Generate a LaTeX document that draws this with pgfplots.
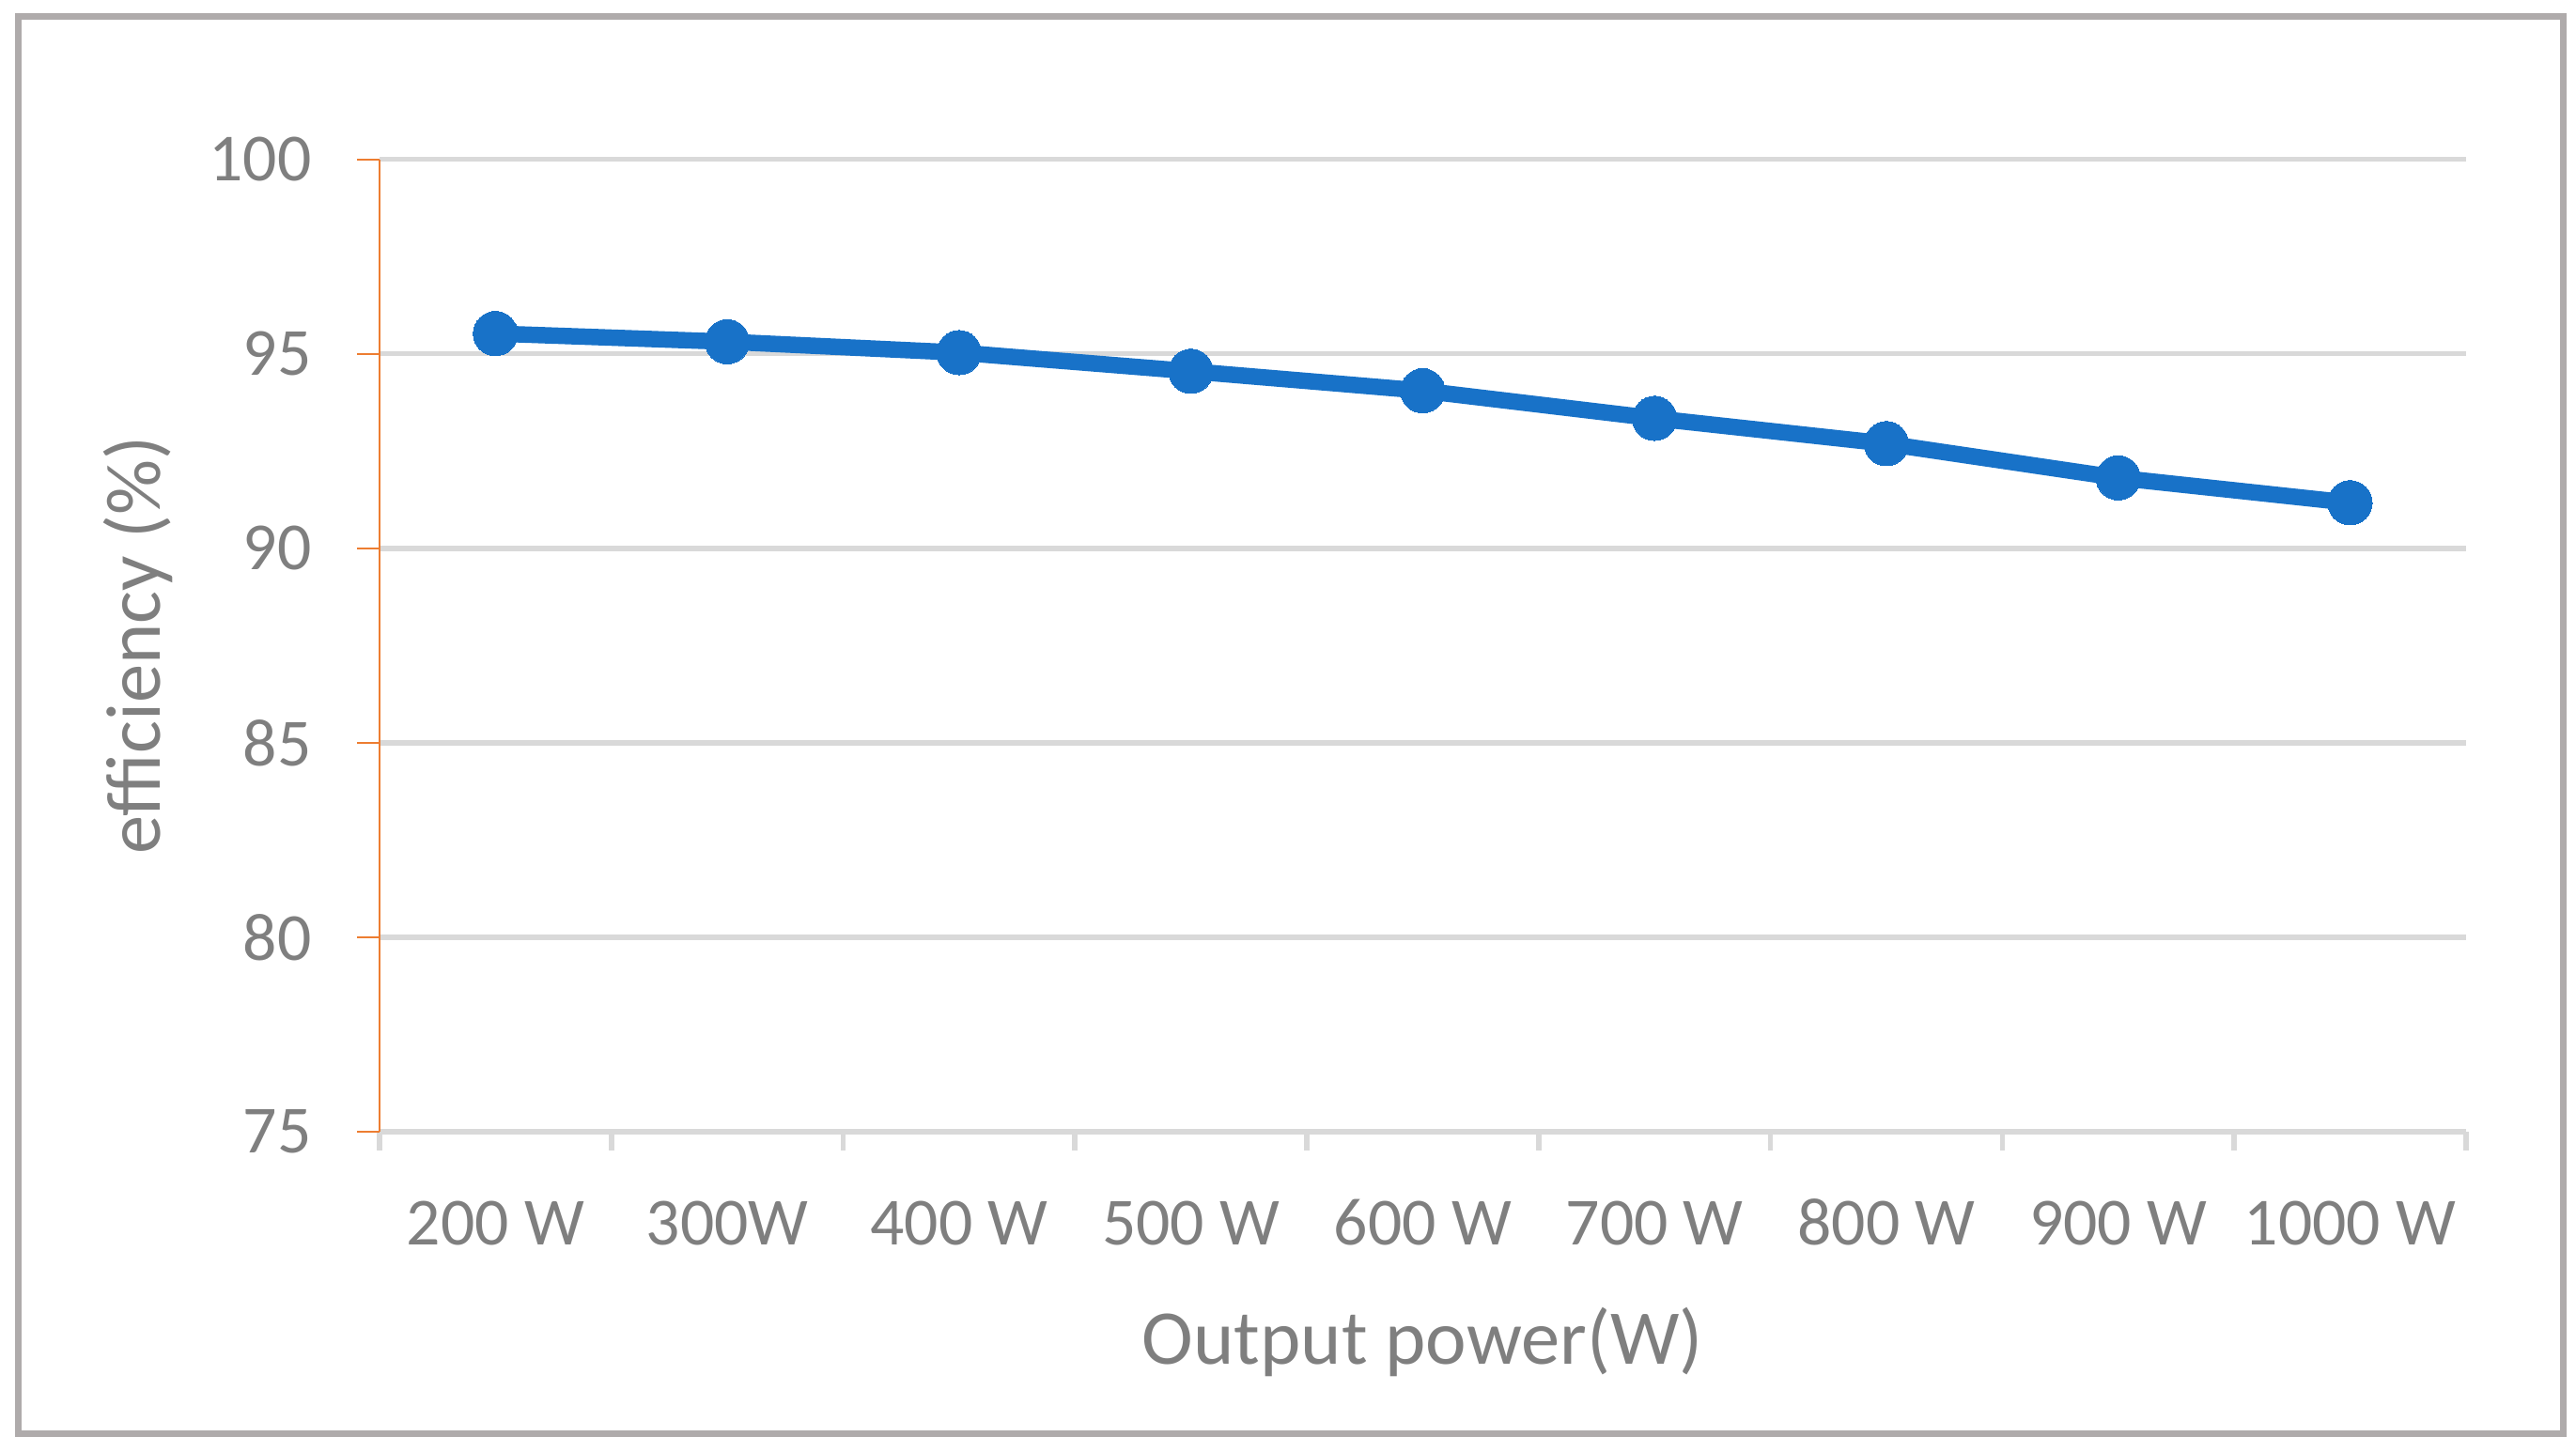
\documentclass[border=0pt]{standalone}
\usepackage{fontspec}
\setmainfont{Carlito}
\usepackage{pgfplots}
\pgfplotsset{compat=1.18}
\definecolor{txtgray}{HTML}{7F7F7F}
\definecolor{gridgray}{HTML}{D9D9D9}
\definecolor{framegray}{HTML}{AFABAB}
\definecolor{axorange}{HTML}{ED7D31}
\definecolor{lineblue}{HTML}{1872C8}
\begin{document}
\begin{tikzpicture}
\path[use as bounding box] (-115.5pt,-97.5pt) rectangle (668.5pt,344.5pt);
\draw[framegray, line width=2pt] (-110pt,-92pt) rectangle (664.5pt,339.5pt);
\begin{axis}[
  at={(0pt,0pt)}, anchor=south west,
  scale only axis, width=635pt, height=296pt,
  xmin=-0.5, xmax=8.5, ymin=75, ymax=100,
  clip=false,
  axis x line*=bottom, axis y line*=left,
  x axis line style={gridgray, line width=1.8pt},
  y axis line style={axorange, line width=0.6pt},
  xtick={0,...,8},
  xticklabels={200 W,300W,400 W,500 W,600 W,700 W,800 W,900 W,1000 W},
  minor xtick={-0.5,0.5,...,8.5},
  ytick={75,80,...,100},
  tick align=outside,
  major tick length=6.9pt,
  minor tick length=5.7pt,
  major x tick style={draw=none},
  minor x tick style={gridgray, line width=1.6pt},
  major y tick style={axorange, line width=0.6pt},
  ymajorgrids,
  major y grid style={gridgray, line width=1.6pt},
  /pgf/number format/assume math mode=true,
  tick label style={font=\fontsize{20.5}{24}\selectfont, text=txtgray, inner sep=0pt},
  yticklabel style={anchor=east, xshift=-13.6pt},
  xticklabel style={anchor=base, yshift=-27.6pt},
  xlabel={Output power(W)},
  ylabel={efficiency (\%)},
  label style={font=\fontsize{23.6}{28}\selectfont, text=txtgray},
  xlabel style={at={(axis description cs:0.5,0)}, anchor=center, yshift=-64pt},
  ylabel style={at={([xshift=-73.5pt]axis description cs:0,0.5)}, anchor=center},
]
\addplot[lineblue, line width=5pt, mark=*, mark size=6.75pt,
  mark options={fill=lineblue, draw=lineblue, line width=0pt}]
  coordinates {(0,95.52) (1,95.31) (2,95.03) (3,94.55) (4,94.05) (5,93.34) (6,92.69) (7,91.81) (8,91.17)};
\end{axis}
\end{tikzpicture}
\end{document}
